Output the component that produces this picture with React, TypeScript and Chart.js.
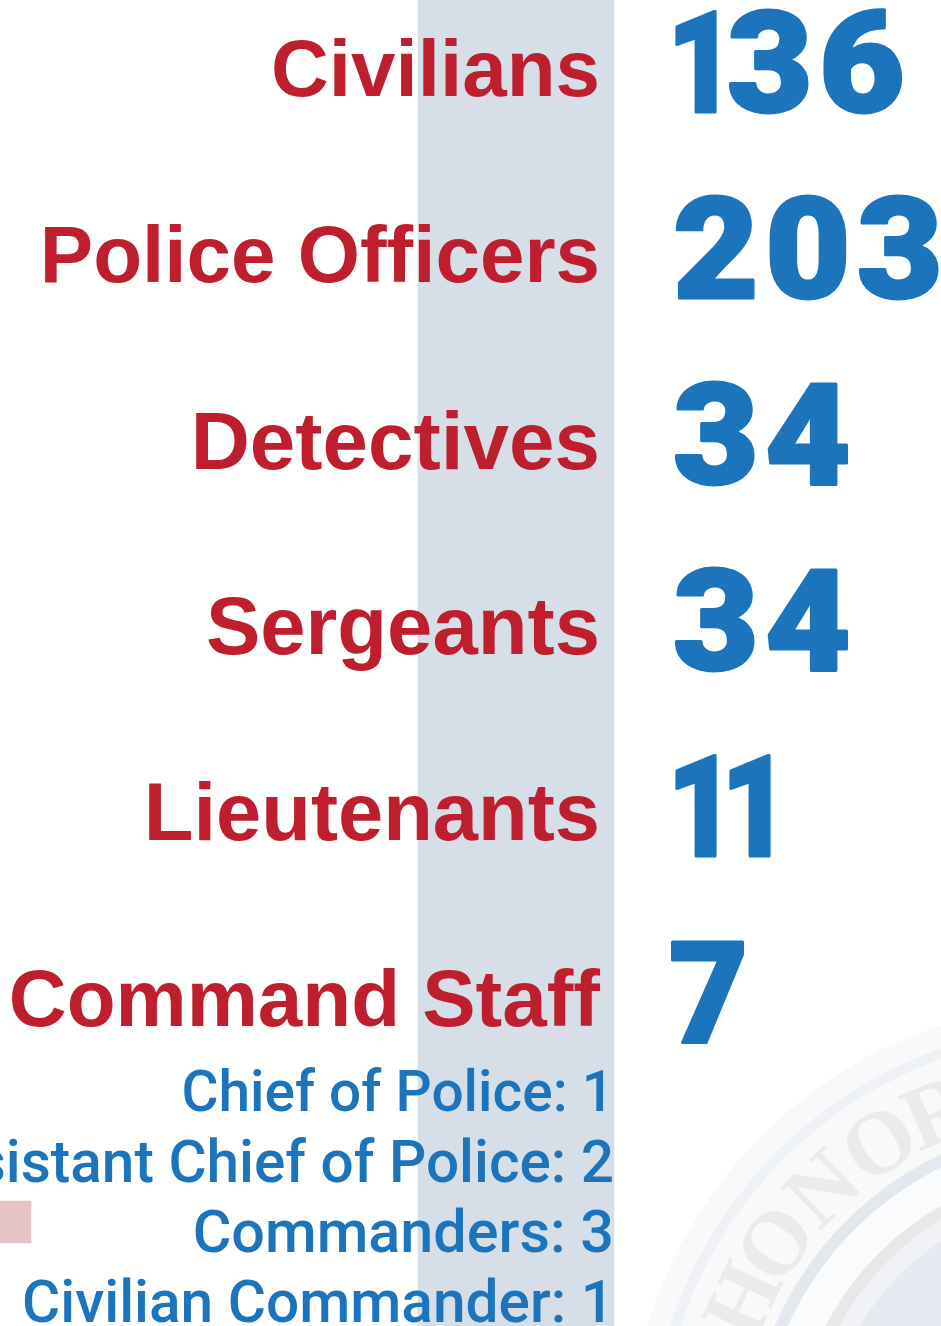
import React, { useEffect, useRef } from "react";
import { Chart, registerables } from "chart.js";

Chart.register(...registerables);

// ---- data ----
const ranks = ["Civilians", "Police Officers", "Detectives", "Sergeants", "Lieutenants", "Command Staff"];
const headcounts = [136, 203, 34, 34, 11, 7];
const commandRoles = ["Chief of Police: 1", "Assistant Chief of Police: 2", "Commanders: 3", "Civilian Commander: 1"];
const rankRows = [74, 260, 446, 632, 818, 1004];
const numberRows = [77, 263, 449, 635, 821, 1007];
const roleRows = [1097, 1167, 1237, 1307];
const bandSpan = [418, 614];
const swatchSpan = [0, 31];

const rankFontSizes = [80, 80, 81.8, 81.5, 81.3, 80];
const roleFontSizes = [56.8, 58.5, 59.3, 58.6];

const RED = "#be1e2d";
const BLUE = "#1c75bc";

const noPadding = (s: any) => {
  s.paddingTop = 0;
  s.paddingBottom = 0;
  s.paddingLeft = 0;
  s.paddingRight = 0;
};

const sealPlugin = {
  id: "seal",
  beforeDatasetsDraw(chart: any) {
    const { ctx } = chart;
    const cx = 1085, cy = 1460;
    const ring = (r: number, fill: string) => {
      ctx.beginPath();
      ctx.arc(cx, cy, r, 0, Math.PI * 2);
      ctx.fillStyle = fill;
      ctx.fill();
    };
    ctx.save();
    ring(458, "#f9f9fa");
    ring(436, "#eef1f5");
    ring(426, "#f9f9fa");
    ring(338, "#e3e8ef");
    ring(326, "#fafbfc");
    ring(292, "#e8e8e9");
    ring(280, "#f0f2f6");
    ring(262, "#e6eaf0");
    ctx.font = "bold 90px 'Liberation Serif'";
    ctx.fillStyle = "#ebebec";
    ctx.textAlign = "center";
    ctx.textBaseline = "middle";
    const letters = ["H", "O", "N", "O", "R"];
    const angles = [-155, -145, -134, -123, -113];
    letters.forEach((l, i) => {
      const a = (angles[i] * Math.PI) / 180;
      ctx.save();
      ctx.translate(cx + 372 * Math.cos(a), cy + 372 * Math.sin(a));
      ctx.rotate(a + Math.PI / 2);
      ctx.fillText(l, 0, 0);
      ctx.restore();
    });
    ctx.restore();
  },
};

const numberPlugin = {
  id: "numberLabels",
  afterDatasetsDraw(chart: any) {
    const meta = chart.getDatasetMeta(2);
    const { ctx } = chart;
    ctx.save();
    ctx.font = "900 141px Roboto";
    ctx.fillStyle = BLUE;
    ctx.strokeStyle = BLUE;
    ctx.lineWidth = 3;
    ctx.lineJoin = "round";
    ctx.textAlign = "left";
    ctx.textBaseline = "middle";
    meta.data.forEach((pt: any, i: number) => {
      let x = pt.x;
      for (const ch of String(headcounts[i])) {
        const one = ch === "1";
        const seven = ch === "7";
        ctx.save();
        ctx.translate(one ? x - 6 : seven ? x - 4 : x, pt.y);
        ctx.scale(one ? 0.84 : seven ? 0.97 : 1.05, 1);
        ctx.fillText(ch, 0, 0);
        ctx.strokeText(ch, 0, 0);
        ctx.restore();
        x += one ? 54 : 92;
      }
    });
    ctx.restore();
  },
};

export default function App() {
  const ref = useRef<HTMLCanvasElement>(null);
  useEffect(() => {
    document.body.style.margin = "0";
    const chart = new Chart(ref.current!, {
      type: "bar",
      data: {
        datasets: [
          {
            label: "Band",
            indexAxis: "y",
            data: [{ x: bandSpan, y: 663 }],
            backgroundColor: "#d6dfe7",
            barThickness: 1326,
            grouped: false,
            order: 3,
          } as any,
          {
            label: "Swatch",
            indexAxis: "y",
            data: [{ x: swatchSpan, y: 1222 }],
            backgroundColor: "#e6c4c6",
            barThickness: 42,
            grouped: false,
            order: 2,
          } as any,
          {
            type: "scatter",
            label: "Headcount",
            data: numberRows.map((y) => ({ x: 673, y })),
            pointRadius: 0,
            order: 1,
          } as any,
        ],
      },
      options: {
        responsive: false,
        animation: false,
        layout: { padding: 0, autoPadding: false },
        plugins: { legend: { display: false }, tooltip: { enabled: false }, title: { display: false } },
        scales: {
          x: { type: "linear", min: 0, max: 941, offset: false, display: false, afterFit: noPadding },
          y: {
            type: "linear",
            min: 0,
            max: 1326,
            offset: false,
            reverse: true,
            position: { x: 600 } as any,
            grid: { display: false },
            border: { display: false },
            afterFit: noPadding,
            afterBuildTicks: (s: any) => {
              s.ticks = rankRows.map((value) => ({ value }));
            },
            ticks: {
              autoSkip: false,
              z: 1,
              padding: 0,
              color: RED,
              font: (c: any) => ({ family: "'Liberation Sans'", weight: "700", size: rankFontSizes[c.index] ?? 80 }),
              callback: (_v: any, i: number) => ranks[i],
            },
          },
          ySub: {
            type: "linear",
            min: 0,
            max: 1326,
            offset: false,
            reverse: true,
            position: { x: 614 } as any,
            grid: { display: false },
            border: { display: false },
            afterFit: noPadding,
            afterBuildTicks: (s: any) => {
              s.ticks = roleRows.map((value) => ({ value }));
            },
            ticks: {
              autoSkip: false,
              z: 1,
              padding: 0,
              color: BLUE,
              font: (c: any) => ({ family: "Roboto", weight: "500", size: roleFontSizes[c.index] ?? 58 }),
              callback: (_v: any, i: number) => commandRoles[i],
            },
          },
        },
      } as any,
      plugins: [sealPlugin, numberPlugin],
    });
    return () => chart.destroy();
  }, []);
  return <canvas ref={ref} width={941} height={1326} style={{ display: "block" }} />;
}
